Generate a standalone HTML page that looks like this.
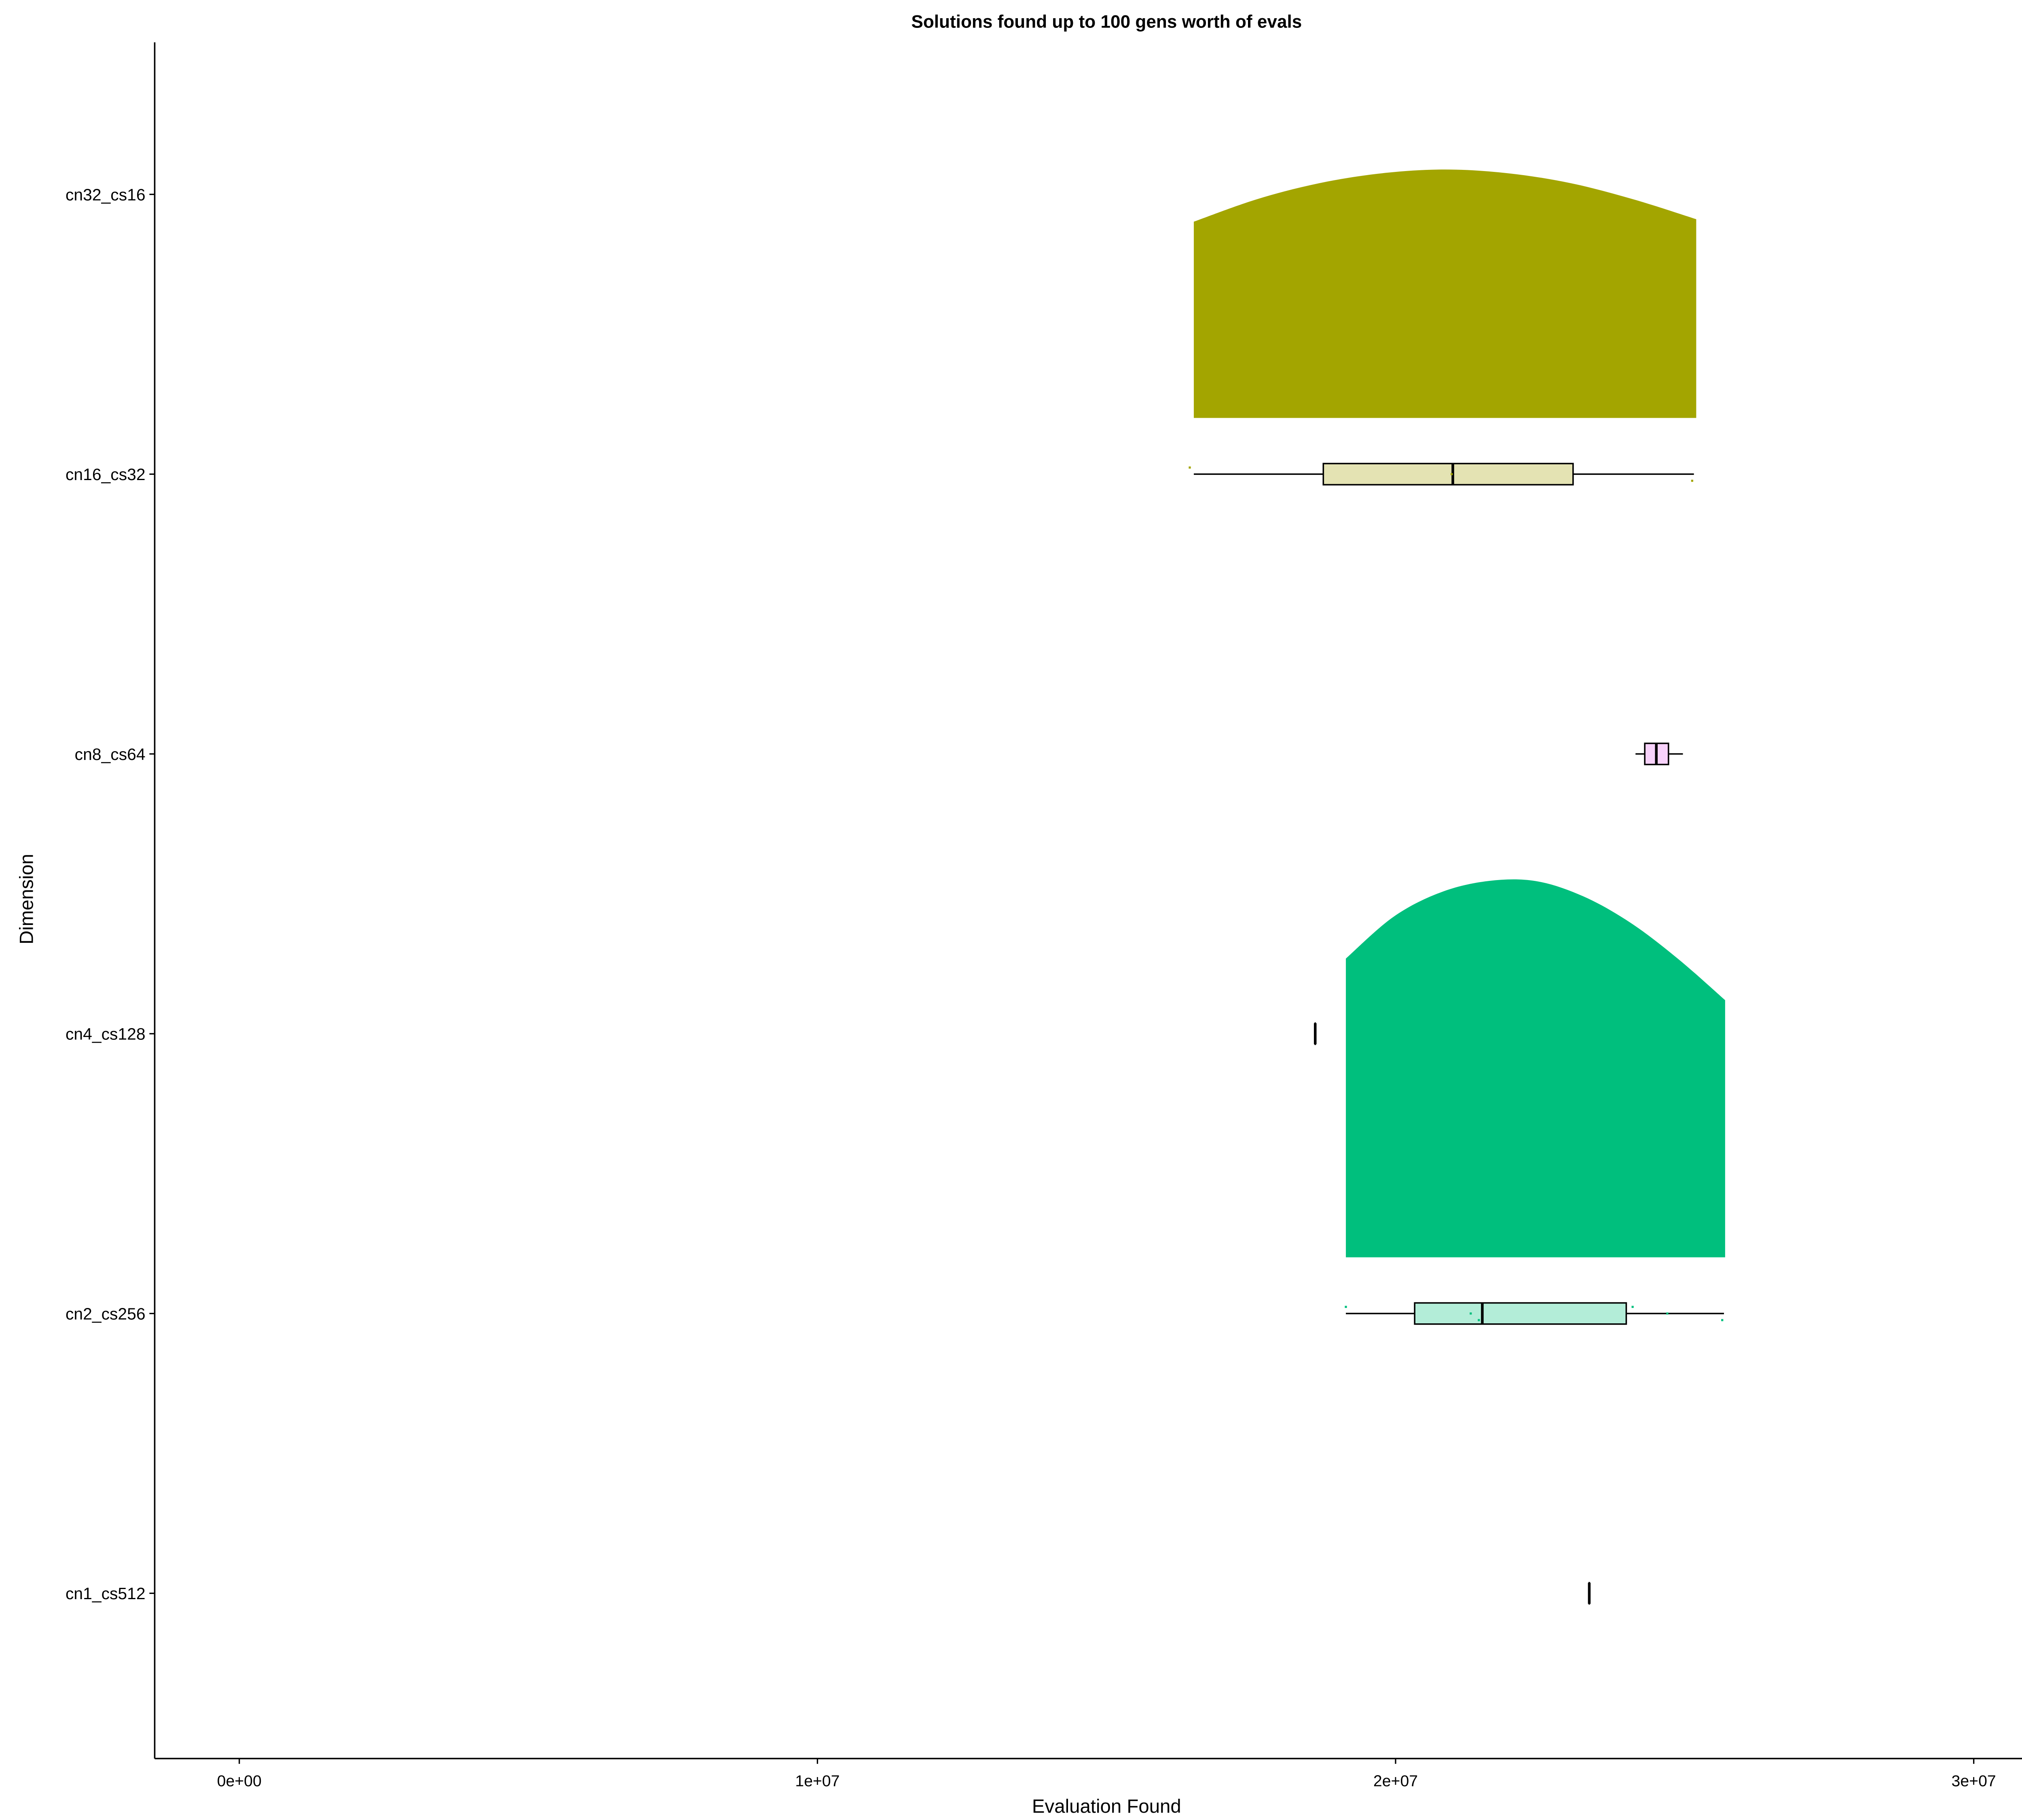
<!DOCTYPE html>
<html><head><meta charset="utf-8"><style>
html,body{margin:0;padding:0;background:#fff;}
svg{display:block;font-family:"Liberation Sans",Arial,sans-serif;}
</style></head><body>
<svg id="chart" width="5100" height="4500" viewBox="0 0 1560 1376.47" xmlns="http://www.w3.org/2000/svg">
<text x="837" y="21" text-anchor="middle" font-size="13.5" font-weight="bold">Solutions found up to 100 gens worth of evals</text>
<text x="837" y="1371" text-anchor="middle" font-size="14.5">Evaluation Found</text>
<text transform="translate(25,680) rotate(-90)" text-anchor="middle" font-size="14.5">Dimension</text>
<g id="plot"></g>
</svg>
<script>
const categories = ["cn32_cs16","cn16_cs32","cn8_cs64","cn4_cs128","cn2_cs256","cn1_cs512"];
const xTicks = [0, 1e7, 2e7, 3e7];
const xTickLabels = ["0e+00","1e+07","2e+07","3e+07"];
// box stats: [min, q1, median, q3, max]
const boxCn16 = [1.651e7, 1.875e7, 2.099e7, 2.307e7, 2.516e7];
const boxCn8 = [2.415e7, 2.431e7, 2.451e7, 2.472e7, 2.497e7];
const boxCn4 = [1.861e7, 1.861e7, 1.861e7, 1.861e7, 1.861e7];
const boxCn2 = [1.914e7, 2.033e7, 2.150e7, 2.399e7, 2.568e7];
const boxCn1 = [2.335e7, 2.335e7, 2.335e7, 2.335e7, 2.335e7];
// half-violin densities (relative), sampled evenly over range
const violinCn16Range = [1.651e7, 2.520e7];
const violinCn16Density = [0.79,0.88,0.945,0.985,1.0,0.985,0.945,0.88,0.80];
const violinCn16Peak = 0.657;
const violinCn2Range = [1.914e7, 2.570e7];
const violinCn2Density = [0.79,0.90,0.965,0.995,0.995,0.955,0.885,0.79,0.68];
const violinCn2Peak = 1.0;
const pointsCn16 = [1.644e7, 2.097e7, 2.513e7];
const pointsCn2 = [1.914e7, 2.130e7, 2.144e7, 2.410e7, 2.470e7, 2.565e7];

const NS = "http://www.w3.org/2000/svg";
const plot = document.getElementById('plot');
const X0 = 181, XPER = 437.3/1e7;
const xs = v => X0 + v*XPER;
const Y0 = 147, YSTEP = 211.6;
const ys = i => Y0 + i*YSTEP;
const MAXH = 286;
function mk(tag, attrs){const e=document.createElementNS(NS,tag);for(const k in attrs)e.setAttribute(k,attrs[k]);plot.appendChild(e);return e;}

let ax = mk('line',{x1:117,y1:32,x2:117,y2:1330,stroke:'#000','stroke-width':1.1});


ax = mk('line',{x1:117,y1:1330,x2:1558,y2:1330,stroke:'#000','stroke-width':1.1});


xTicks.forEach((t,i)=>{
  const l=mk('line',{x1:xs(t),y1:1330,x2:xs(t),y2:1334,stroke:'#000','stroke-width':1});
  
  
  const tx=mk('text',{x:xs(t),y:1351,'text-anchor':'middle','font-size':12});
  tx.textContent=xTickLabels[i];
  
  
});
categories.forEach((c,i)=>{
  const l=mk('line',{x1:113,y1:ys(i),x2:117,y2:ys(i),stroke:'#000','stroke-width':1});
  
  
  const tx=mk('text',{x:110,y:ys(i)+4.5,'text-anchor':'end','font-size':12.5});
  tx.textContent=c;
  
  
});

function violin(range, dens, peak, rowIdx, color, name){
  const base = ys(rowIdx) - 42.5;
  const n = dens.length;
  const step = (range[1]-range[0])/(n-1);
  const P = dens.map((d,k)=>[xs(range[0]+k*step), base - d*peak*MAXH]);
  let d = `M${xs(range[0])},${base} L${P[0][0]},${P[0][1]}`;
  for(let k=0;k<n-1;k++){
    const p0=P[Math.max(0,k-1)],p1=P[k],p2=P[k+1],p3=P[Math.min(n-1,k+2)];
    d+=` C${p1[0]+(p2[0]-p0[0])/6},${p1[1]+(p2[1]-p0[1])/6} ${p2[0]-(p3[0]-p1[0])/6},${p2[1]-(p3[1]-p1[1])/6} ${p2[0]},${p2[1]}`;
  }
  d+=` L${xs(range[1])},${base} Z`;
  const p=mk('path',{d:d,fill:color});
  
  
}
function box(s, rowIdx, fill, name){
  const y=ys(rowIdx), h=8;
  const g1=mk('line',{x1:xs(s[0]),y1:y,x2:xs(s[1]),y2:y,stroke:'#000','stroke-width':1.1});
  
  
  const g2=mk('line',{x1:xs(s[3]),y1:y,x2:xs(s[4]),y2:y,stroke:'#000','stroke-width':1.1});
  
  
  const r=mk('rect',{x:xs(s[1]),y:y-h,width:Math.max(0.01,xs(s[3])-xs(s[1])),height:2*h,fill:fill,stroke:'#000','stroke-width':1.1});
  
  
  const m=mk('line',{x1:xs(s[2]),y1:y-h,x2:xs(s[2]),y2:y+h,stroke:'#000','stroke-width':2});
  
  
}
function points(arr,rowIdx,color,name){
  arr.forEach((v,k)=>{
    const c=mk('rect',{x:xs(v)-0.8,y:ys(rowIdx)+((k%3)-1)*5-0.8,width:1.6,height:1.6,fill:color});
    
    
  });
}
violin(violinCn16Range, violinCn16Density, violinCn16Peak, 1, '#A3A500', 'violin-cn16-cs32');
violin(violinCn2Range, violinCn2Density, violinCn2Peak, 4, '#00BF7D', 'violin-cn2-cs256');
box(boxCn16, 1, '#E4E3B3', 'boxplot-cn16-cs32');
box(boxCn8, 2, '#F8D2FB', 'boxplot-cn8-cs64');
box(boxCn4, 3, '#B3EDD8', 'boxplot-cn4-cs128');
box(boxCn2, 4, '#B3EDD8', 'boxplot-cn2-cs256');
box(boxCn1, 5, '#F8D0DA', 'boxplot-cn1-cs512');
points(pointsCn16, 1, '#A3A500', 'point-cn16-cs32');
points(pointsCn2, 4, '#00BF7D', 'point-cn2-cs256');
</script>
</body></html>
